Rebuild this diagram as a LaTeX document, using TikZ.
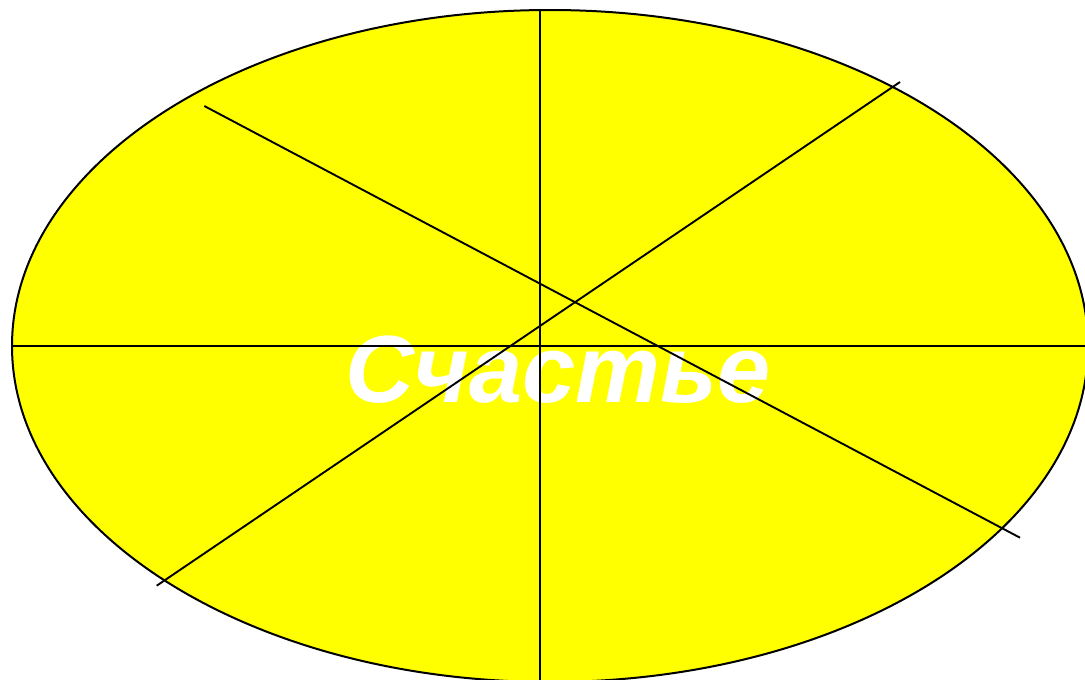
\documentclass[tikz,border=0pt]{standalone}
\usepackage{fontspec}
\setmainfont{Liberation Sans}
\definecolor{pureyellow}{RGB}{255,255,0}
\tikzset{
  spoke/.style={draw=black, line width=1.9pt},
  disc/.style={fill=pureyellow},
  word/.style={text=white, font=\fontsize{95.5}{96}\selectfont\bfseries\itshape, inner sep=0pt, anchor=base}
}
\begin{document}
\begin{tikzpicture}[x=1pt,y=-1pt]
\useasboundingbox (0,0) rectangle (1085,680);
\clip (0,0) rectangle (1085,680);
\fill[disc] (550,346) ellipse [x radius=538, y radius=336];
\node[word] (t) at (558,402) {Счастье};
\coordinate (v1) at (540.3,10);
\coordinate (v2) at (540.3,690);
\coordinate (h1) at (12,345.7);
\coordinate (h2) at (1100,345.7);
\coordinate (a1) at (204.3,106);
\coordinate (a2) at (1020,537.7);
\coordinate (b1) at (900,82);
\coordinate (b2) at (156.7,585.7);
\draw[spoke] (v1) -- (v2);
\draw[spoke] (h1) -- (h2);
\draw[spoke] (a1) -- (a2);
\draw[spoke] (b1) -- (b2);
\draw[black, line width=2pt] (550,346) ellipse [x radius=538, y radius=336];
\end{tikzpicture}
\end{document}
